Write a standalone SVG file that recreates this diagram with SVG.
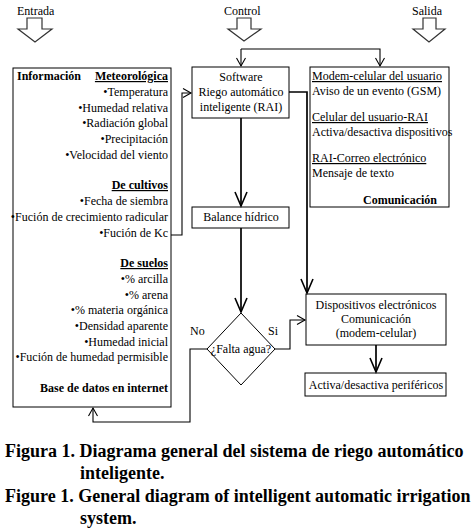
<svg xmlns="http://www.w3.org/2000/svg" width="474" height="528" viewBox="0 0 474 528" font-family="Liberation Serif, Tinos, DejaVu Serif, serif">
<defs>
<style>
text{font-family:'Liberation Serif',Tinos,'DejaVu Serif',serif;font-size:12px;fill:#000}
.b{font-weight:bold}
.u{text-decoration:underline}
.e{text-anchor:end}
.m{text-anchor:middle}
.cap{font-size:18px;font-weight:bold}
.box{fill:#fff;stroke:#000;stroke-width:1}
.hol{fill:#fff;stroke:#333;stroke-width:1.2}
.c{fill:none;stroke:#000;stroke-width:1.1}
.t{fill:none;stroke:#000;stroke-width:1.7}
</style>
<marker id="big" markerUnits="userSpaceOnUse" markerWidth="18" markerHeight="16" viewBox="-16 -8 18 16" refX="0" refY="0" orient="auto">
<path d="M-14,-6 L0,0 L-14,6" fill="none" stroke="#000" stroke-width="1.6"/>
</marker>
<marker id="sm" markerUnits="userSpaceOnUse" markerWidth="12" markerHeight="12" viewBox="-10 -6 12 12" refX="0" refY="0" orient="auto">
<path d="M-8,-4.5 L0,0 L-8,4.5" fill="none" stroke="#000" stroke-width="1.1"/>
</marker>
</defs>
<rect width="474" height="528" fill="#fff"/>

<g id="entrada">
<text x="17" y="15">Entrada</text>
<polygon class="hol" points="27,18 42,18 42,29 52,29 35,42 18,29 27,29"/>
</g>
<g id="control">
<text x="224" y="15">Control</text>
<polygon class="hol" points="237,18 251,18 251,29 261,29 244,41 228,29 237,29"/>
</g>
<g id="salida">
<text x="412" y="15">Salida</text>
<polygon class="hol" points="423,18 436,18 436,29 445,29 429,42 413,29 423,29"/>
</g>

<g id="informacion">
<rect class="box" x="13" y="68" width="158" height="339"/>
<text class="b" x="17" y="80">Información</text>
<text class="b u e" x="168" y="80">Meteorológica</text>
<text class="e" x="168" y="96">•Temperatura</text>
<text class="e" x="168" y="112">•Humedad relativa</text>
<text class="e" x="168" y="127">•Radiación global</text>
<text class="e" x="168" y="143">•Precipitación</text>
<text class="e" x="168" y="159">•Velocidad del viento</text>
<text class="b u e" x="168" y="189">De cultivos</text>
<text class="e" x="168" y="205">•Fecha de siembra</text>
<text class="e" x="168" y="221">•Fución de crecimiento radicular</text>
<text class="e" x="168" y="237">•Fución de Kc</text>
<text class="b u e" x="168" y="267">De suelos</text>
<text class="e" x="168" y="283">•% arcilla</text>
<text class="e" x="168" y="299">•% arena</text>
<text class="e" x="168" y="314">•% materia orgánica</text>
<text class="e" x="168" y="330">•Densidad aparente</text>
<text class="e" x="168" y="346">•Humedad inicial</text>
<text class="e" x="168" y="361">•Fución de humedad permisible</text>
<text class="b e" x="168" y="392">Base de datos en internet</text>
</g>

<g id="software">
<rect class="box" x="192" y="67" width="97" height="51"/>
<text class="m" x="241" y="81">Software</text>
<text class="m" x="241" y="96">Riego automático</text>
<text class="m" x="241" y="111">inteligente (RAI)</text>
</g>

<g id="comunicacion">
<rect class="box" x="310" y="67" width="139" height="140"/>
<text class="u" x="312" y="80">Modem-celular del usuario</text>
<text x="312" y="95">Aviso de un evento (GSM)</text>
<text class="u" x="312" y="121">Celular del usuario-RAI</text>
<text x="312" y="136">Activa/desactiva dispositivos</text>
<text class="u" x="312" y="162">RAI-Correo electrónico</text>
<text x="312" y="177">Mensaje de texto</text>
<text class="b e" x="437" y="204">Comunicación</text>
</g>

<g id="balance">
<rect class="box" x="192" y="207" width="97" height="21"/>
<text class="m" x="241" y="221">Balance hídrico</text>
</g>

<g id="falta">
<polygon class="box" points="241,313 275,349 241,385 207,349"/>
<text class="m" x="241" y="353">¿Falta agua?</text>
</g>

<g id="dispositivos">
<rect class="box" x="306" y="294" width="140" height="51"/>
<text class="m" x="376" y="309">Dispositivos electrónicos</text>
<text class="m" x="376" y="323">Comunicación</text>
<text class="m" x="376" y="337">(modem-celular)</text>
</g>

<g id="perifericos">
<rect class="box" x="305" y="373" width="141" height="23"/>
<text class="m" x="376" y="389">Activa/desactiva periféricos</text>
</g>

<g id="connectors">
<path class="c" d="M241,49 H380 V66" marker-end="url(#sm)"/>
<path class="c" d="M241,49 V66" marker-end="url(#sm)"/>
<path class="c" d="M171,235 H182 V93 H191" marker-end="url(#sm)"/>
<path class="t" d="M241,118 V206" marker-end="url(#big)"/>
<path class="t" d="M289,92 H307 V293" marker-end="url(#big)"/>
<path class="t" d="M241,228 V312" marker-end="url(#big)"/>
<path class="c" d="M275,349 H290 V320 H305" marker-end="url(#sm)"/>
<path class="c" d="M207,349 H190 V422 H93 V408" marker-end="url(#sm)"/>
<path class="t" d="M376,345 V372" marker-end="url(#big)"/>
<text x="190" y="335">No</text>
<text x="268" y="335">Si</text>
</g>

<g id="caption">
<text class="cap" x="5" y="457">Figura 1. Diagrama general del sistema de riego automático</text>
<text class="cap" x="80" y="479">inteligente.</text>
<text class="cap" x="5" y="502">Figure 1. General diagram of intelligent automatic irrigation</text>
<text class="cap" x="80" y="524">system.</text>
</g>
</svg>
